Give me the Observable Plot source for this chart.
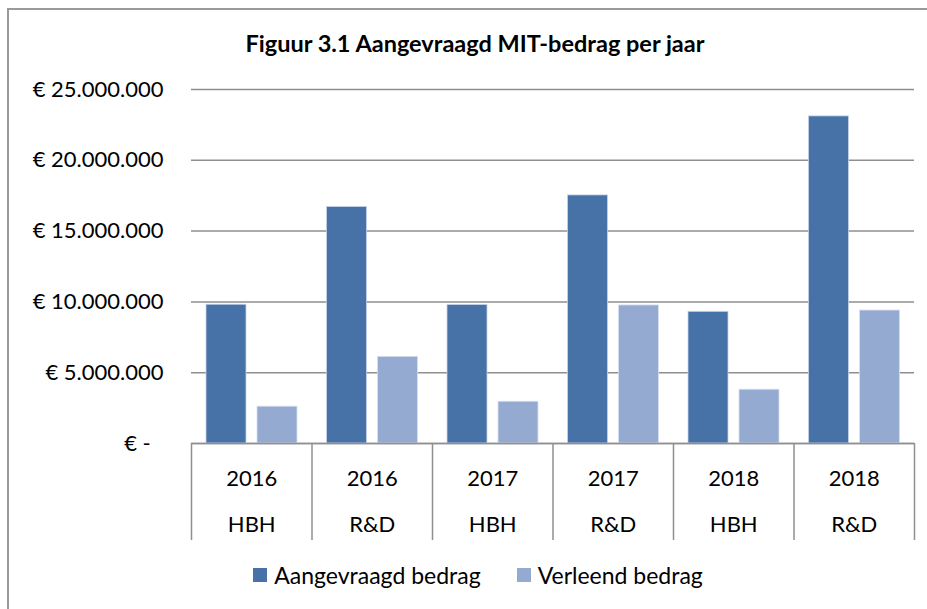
<!DOCTYPE html>
<html>
<head>
<meta charset="utf-8">
<script src="https://cdn.jsdelivr.net/npm/d3@7"></script>
<script src="https://cdn.jsdelivr.net/npm/@observablehq/plot@0.6"></script>
<style>
  html, body { margin: 0; padding: 0; background: #fff; }
  #wrap { position: relative; width: 927px; height: 609px; overflow: hidden; font-family: Lato, "Open Sans", sans-serif; color: #000; }
  #border { position: absolute; left: 7px; top: 8px; width: 1000px; height: 1000px; border-left: 2px solid #9a9a9a; border-top: 2px solid #9a9a9a; }
  #title { position: absolute; left: 0; top: 29px; width: 950px; text-align: center; font-weight: bold; font-size: 23.5px; }
  #chart { position: absolute; left: 0; top: 0; }
  #legend { position: absolute; left: 0; top: 561px; width: 956px; display: flex; justify-content: center; font-size: 23px; }
  .item { display: flex; align-items: center; margin: 0 18px; }
  .sw { width: 14px; height: 14px; margin-right: 7px; }
</style>
</head>
<body>
<div id="wrap">
  <div id="border"></div>
  <div id="title">Figuur 3.1 Aangevraagd MIT-bedrag per jaar</div>
  <div id="chart"></div>
  <div id="legend"></div>
</div>
<script>
// ---- data ----
const years = ["2016", "2016", "2017", "2017", "2018", "2018"];
const types = ["HBH", "R&D", "HBH", "R&D", "HBH", "R&D"];
const aangevraagd = [9800000, 16700000, 9780000, 17520000, 9300000, 23100000];
const verleend = [2600000, 6120000, 2950000, 9750000, 3800000, 9390000];
const yTicks = [0, 5000000, 10000000, 15000000, 20000000, 25000000];
const seriesNames = ["Aangevraagd bedrag", "Verleend bedrag"];
const seriesColors = ["#4672a8", "#95aad1"];

const rows = years.map((y, i) => ({ i, year: y, type: types[i], aang: aangevraagd[i], verl: verleend[i] }));
const bounds = d3.range(years.length + 1);

const grid = "#8f8f8f";
const fmt = d => d === 0 ? "€ -\u2007" : "€ " + d3.format(",")(d).replace(/,/g, ".");

const chart = Plot.plot({
  width: 927,
  height: 560,
  marginLeft: 191,
  marginRight: 13,
  marginTop: 443,
  marginBottom: 20,
  x: { domain: [0, years.length], axis: null },
  y: { domain: [0, 25000000], range: [443, 89], axis: null },
  style: { fontFamily: "Lato, 'Open Sans', sans-serif", fontSize: "22px", color: "#000", background: "transparent", overflow: "visible" },
  marks: [
    Plot.gridY(yTicks, { stroke: grid, strokeOpacity: 1, strokeWidth: 1.5 }),
    Plot.axisY(yTicks, { tickSize: 0, tickPadding: 28, tickFormat: fmt, fontSize: 22, fill: "#000" }),
    Plot.rectY(rows, { x1: "i", x2: d => d.i + 1, y: "aang", fill: seriesColors[0], insetLeft: 15, insetRight: 65.5, stroke: "#c5d3e8", strokeWidth: 0.8 }),
    Plot.rectY(rows, { x1: "i", x2: d => d.i + 1, y: "verl", fill: seriesColors[1], insetLeft: 66, insetRight: 14.5, stroke: "#d6e0f0", strokeWidth: 0.8 }),
    Plot.ruleY([0], { stroke: grid, strokeWidth: 1.5 }),
    Plot.ruleX(bounds, { x: d => d, stroke: grid, strokeWidth: 1.5 }),
    Plot.text(rows, { x: d => d.i + 0.5, text: "year", frameAnchor: "top", lineAnchor: "middle", dy: 35, fontSize: 22, fill: "#000" }),
    Plot.text(rows, { x: d => d.i + 0.5, text: "type", frameAnchor: "top", lineAnchor: "middle", dy: 81, fontSize: 22, fill: "#000" })
  ]
});
document.getElementById("chart").appendChild(chart);

const legend = document.getElementById("legend");
seriesNames.forEach((name, k) => {
  const it = document.createElement("div");
  it.className = "item";
  const sw = document.createElement("span");
  sw.className = "sw";
  sw.style.background = seriesColors[k];
  const tx = document.createElement("span");
  tx.textContent = name;
  it.appendChild(sw);
  it.appendChild(tx);
  legend.appendChild(it);
});
</script>
</body>
</html>
